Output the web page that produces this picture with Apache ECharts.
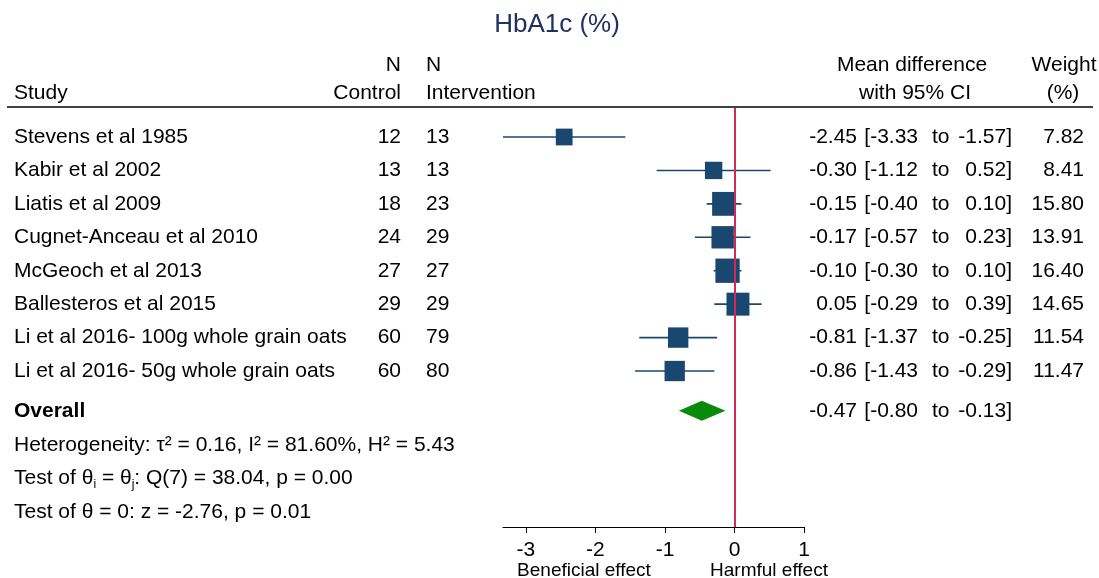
<!DOCTYPE html>
<html>
<head>
<meta charset="utf-8">
<script src="https://cdn.jsdelivr.net/npm/echarts@6/dist/echarts.min.js"></script>
<style>
  html, body { margin: 0; padding: 0; background: #fff; }
  #chart { width: 1099px; height: 578px; }
</style>
</head>
<body>
<div id="chart"></div>
<script>
// Forest plot: effect of oats on HbA1c (%)
const studies = [
  'Stevens et al 1985',
  'Kabir et al 2002',
  'Liatis et al 2009',
  'Cugnet-Anceau et al 2010',
  'McGeoch et al 2013',
  'Ballesteros et al 2015',
  'Li et al 2016- 100g whole grain oats',
  'Li et al 2016- 50g whole grain oats'
];
const nControl      = [12, 13, 18, 24, 27, 29, 60, 60];
const nIntervention = [13, 13, 23, 29, 27, 29, 79, 80];
const meanDiff = [-2.45, -0.30, -0.15, -0.17, -0.10, 0.05, -0.81, -0.86];
const ciLower  = [-3.33, -1.12, -0.40, -0.57, -0.30, -0.29, -1.37, -1.43];
const ciUpper  = [-1.57,  0.52,  0.10,  0.23,  0.10,  0.39, -0.25, -0.29];
const weights  = [7.82, 8.41, 15.80, 13.91, 16.40, 14.65, 11.54, 11.47];

const overallEst = -0.47;
const overallLower = -0.80;
const overallUpper = -0.13;

const xTicks = [-3, -2, -1, 0, 1];
const xAxisMin = -3.33;
const xAxisMax = 1;

const statLines = [
  'Heterogeneity: τ² = 0.16, I² = 81.60%, H² = 5.43',
  '{m|Test of θ}{s|i}{m| = θ}{s|j}{m|: Q(7) = 38.04, p = 0.00}',
  'Test of θ = 0: z = -2.76, p = 0.01'
];

// Row positions on the (hidden) vertical scale
const studyRows = studies.map((_, i) => i + 1);
const overallRow = 9.19;
const statRows = [10.21, 11.2, 12.21];

const FONT = '"Liberation Sans", Arial, Helvetica, sans-serif';
const FS = 21;
const NAVY = '#1a476f';

function fmt(v) { return v.toFixed(2); }

function txt(x, y, text, align, extra) {
  return {
    type: 'text',
    x: x, y: y,
    style: Object.assign({
      text: text, fill: '#000', fontFamily: FONT, fontSize: FS,
      align: align || 'left', verticalAlign: 'middle'
    }, extra || {})
  };
}

function effectCols(y, est, lo, hi) {
  return [
    txt(857, y, fmt(est), 'right'),
    txt(918, y, '[' + fmt(lo), 'right'),
    txt(932, y, 'to', 'left'),
    txt(1012, y, fmt(hi) + ']', 'right')
  ];
}

function header(x, y, text, align) {
  return { type: 'text', x: x, y: y + 1,
    style: { text: text, fill: '#000', fontFamily: FONT, fontSize: FS, align: align, verticalAlign: 'middle' } };
}

const chart = echarts.init(document.getElementById('chart'), null, { renderer: 'canvas' });

const option = {
  animation: false,
  backgroundColor: '#fff',
  grid: { left: 503, right: 295, top: 108, bottom: 51, containLabel: false },
  xAxis: {
    type: 'value',
    min: xAxisMin,
    max: xAxisMax,
    splitLine: { show: false },
    axisLine: { show: true, onZero: false, lineStyle: { color: '#000', width: 1 } },
    axisTick: { show: true, length: 6, lineStyle: { color: '#000' }, customValues: xTicks },
    axisLabel: {
      show: true, customValues: xTicks, margin: 13,
      color: '#000', fontFamily: FONT, fontSize: FS,
      formatter: v => String(v)
    }
  },
  yAxis: {
    type: 'value',
    inverse: true,
    min: 0.1325,
    max: 12.666,
    show: false
  },
  series: [
    {
      // confidence intervals and weighted squares
      type: 'custom',
      name: 'studies',
      data: studies.map((_, i) => [meanDiff[i], ciLower[i], ciUpper[i], weights[i], studyRows[i]]),
      encode: { x: [0, 1, 2], y: 4 },
      renderItem: function (params, api) {
        const row = api.value(4);
        const c = api.coord([api.value(0), row]);
        const lo = api.coord([api.value(1), row]);
        const hi = api.coord([api.value(2), row]);
        const size = 6 * Math.sqrt(api.value(3));
        return {
          type: 'group',
          children: [
            { type: 'line', shape: { x1: lo[0], y1: lo[1], x2: hi[0], y2: hi[1] },
              style: { stroke: NAVY, lineWidth: 1.6 } },
            { type: 'rect', shape: { x: c[0] - size / 2, y: c[1] - size / 2, width: size, height: size },
              style: { fill: NAVY } }
          ]
        };
      },
      markLine: {
        silent: true,
        symbol: 'none',
        label: { show: false },
        lineStyle: { color: '#d0295a', width: 2, type: 'solid' },
        data: [{ xAxis: 0 }]
      },
      z: 3
    },
    {
      // pooled estimate diamond
      type: 'custom',
      name: 'overall',
      data: [[overallEst, overallLower, overallUpper, overallRow]],
      encode: { x: [0, 1, 2], y: 3 },
      renderItem: function (params, api) {
        const row = api.value(3);
        const c = api.coord([api.value(0), row]);
        const lo = api.coord([api.value(1), row]);
        const hi = api.coord([api.value(2), row]);
        const h = 10;
        return {
          type: 'polygon',
          shape: { points: [[lo[0], c[1]], [c[0], c[1] - h], [hi[0], c[1]], [c[0], c[1] + h]] },
          style: { fill: '#0a8a0a' }
        };
      },
      z: 2
    },
    {
      // table columns beside the plot
      type: 'custom',
      name: 'table',
      clip: false,
      data: studyRows.map(r => [0, r]).concat([[0, overallRow]], statRows.map(r => [0, r])),
      encode: { x: 0, y: 1 },
      renderItem: function (params, api) {
        const i = params.dataIndex;
        const y = api.coord([0, api.value(1)])[1];
        const n = studies.length;
        let children;
        if (i < n) {
          children = [
            txt(14, y, studies[i], 'left'),
            txt(401, y, String(nControl[i]), 'right'),
            txt(426, y, String(nIntervention[i]), 'left')
          ].concat(effectCols(y, meanDiff[i], ciLower[i], ciUpper[i]),
                   [txt(1084, y, fmt(weights[i]), 'right')]);
        } else if (i === n) {
          children = [txt(14, y, 'Overall', 'left', { fontWeight: 'bold' })]
            .concat(effectCols(y, overallEst, overallLower, overallUpper));
        } else {
          const k = i - n - 1;
          const t = txt(14, y, statLines[k], 'left');
          if (k === 1) {
            t.style.rich = {
              m: { fontFamily: FONT, fontSize: FS, lineHeight: 26, fill: '#000' },
              s: { fontFamily: FONT, fontSize: 12, lineHeight: 12, verticalAlign: 'bottom', fill: '#000' }
            };
          }
          children = [t];
        }
        return { type: 'group', children: children };
      },
      z: 4
    }
  ],
  graphic: [
    { type: 'text', x: 557, y: 25,
      style: { text: 'HbA1c (%)', fill: '#1e3160', fontFamily: FONT, fontSize: 26, align: 'center', verticalAlign: 'middle' } },
    header(401, 64, 'N', 'right'),
    header(426, 64, 'N', 'left'),
    header(14, 92, 'Study', 'left'),
    header(401, 92, 'Control', 'right'),
    header(426, 92, 'Intervention', 'left'),
    header(912, 64, 'Mean difference', 'center'),
    header(915, 92, 'with 95% CI', 'center'),
    header(1064, 64, 'Weight', 'center'),
    header(1063, 92, '(%)', 'center'),
    { type: 'line', shape: { x1: 7, y1: 107, x2: 1093, y2: 107 }, style: { stroke: '#000', lineWidth: 1.5 } },
    { type: 'text', x: 584, y: 571, style: { text: 'Beneficial effect', fill: '#000', fontFamily: FONT, fontSize: 19, align: 'center', verticalAlign: 'middle' } },
    { type: 'text', x: 769, y: 571, style: { text: 'Harmful effect', fill: '#000', fontFamily: FONT, fontSize: 19, align: 'center', verticalAlign: 'middle' } }
  ]
};

chart.setOption(option);
</script>
</body>
</html>
